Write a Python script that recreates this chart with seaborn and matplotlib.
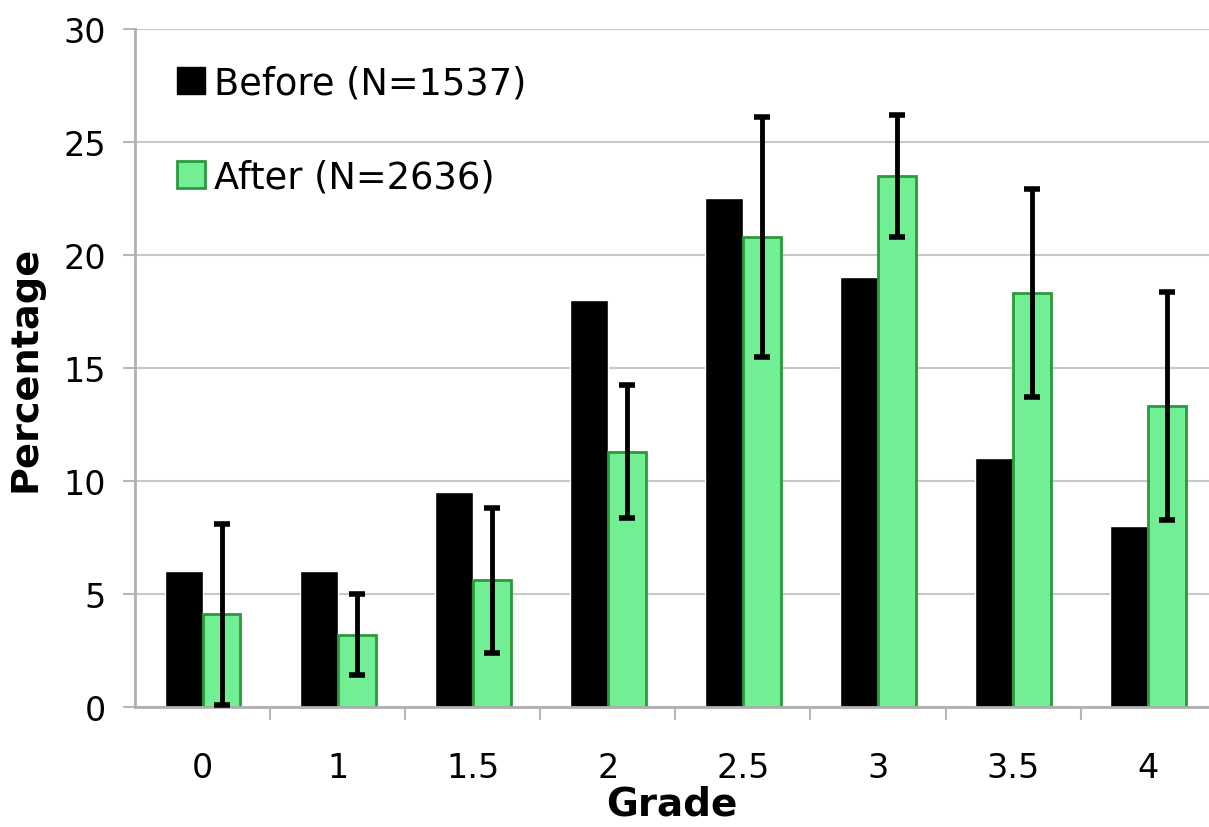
import numpy as np
import pandas as pd
import seaborn as sns
import matplotlib.pyplot as plt
from matplotlib.patches import Patch

# values
grades = ["0", "1", "1.5", "2", "2.5", "3", "3.5", "4"]
before = [6.0, 6.0, 9.5, 18.0, 22.5, 19.0, 11.0, 8.0]
after = [4.1, 3.2, 5.6, 11.3, 20.8, 23.5, 18.3, 13.3]
after_err = [4.0, 1.8, 3.2, 2.95, 5.3, 2.7, 4.6, 5.05]
labels = ["Before (N=1537)", "After (N=2636)"]

green = "#72ee95"
green_edge = "#2a9a3a"

df = pd.DataFrame({
    "Grade": grades * 2,
    "Percentage": before + after,
    "group": [labels[0]] * len(grades) + [labels[1]] * len(grades),
})

sns.set_style("white")
plt.rcParams["font.family"] = ["DejaVu Sans"]
plt.rcParams["text.color"] = "black"
plt.rcParams["axes.labelcolor"] = "black"

fig = plt.figure(figsize=(12.09, 8.28), dpi=100)
ax = fig.add_axes([0.1117, 0.145, 0.8883, 0.819])

sns.barplot(data=df, x="Grade", y="Percentage", hue="group", order=grades,
            palette=["black", green], width=0.56, errorbar=None,
            saturation=1, ax=ax, legend=False, zorder=2)

# outline the green bars
for p in ax.containers[1]:
    p.set_edgecolor(green_edge)
    p.set_linewidth(2)

# error bars on the "after" series
xs = [p.get_x() + p.get_width() / 2 for p in ax.containers[1]]
ax.errorbar(xs, after, yerr=after_err, fmt="none", ecolor="black",
            elinewidth=3.5, capsize=6, capthick=4, zorder=3)

ax.set_ylim(0, 30)
ax.set_xlim(-0.5, 7.45)
ax.set_yticks(range(0, 31, 5))
ax.yaxis.grid(True, color="#c8c8c8", linewidth=1.5, zorder=0)
ax.set_axisbelow(True)

# Excel style tick marks between categories
ax.set_xticks(np.arange(0.5, 7.5, 1), minor=True)
ax.tick_params(axis="x", which="major", bottom=True, length=0, pad=32,
               labelsize=24, labelcolor="black")
ax.tick_params(axis="x", which="minor", bottom=True, length=9, width=1.5,
               color="#b8b8b8", direction="out")
ax.tick_params(axis="y", left=True, length=9, width=1.5, color="#b8b8b8",
               direction="out", labelsize=24, pad=12, labelcolor="black")

for s in ["top", "right"]:
    ax.spines[s].set_visible(False)
for s in ["left", "bottom"]:
    ax.spines[s].set_color("#b0b0b0")
    ax.spines[s].set_linewidth(2)

ax.set_xlabel("Grade", fontsize=28, fontweight="bold", labelpad=0)
ax.set_ylabel("Percentage", fontsize=27.5, fontweight="bold", labelpad=14)

handles = [Patch(facecolor="black", edgecolor="black"),
           Patch(facecolor=green, edgecolor=green_edge, linewidth=2)]
ax.legend(handles, labels, loc="upper left", bbox_to_anchor=(0.022, 0.975),
          frameon=False, fontsize=26.5, handlelength=0.75, handleheight=0.75,
          handletextpad=0.25, labelspacing=1.55, borderpad=0)

fig.savefig("out.png", dpi=100)
